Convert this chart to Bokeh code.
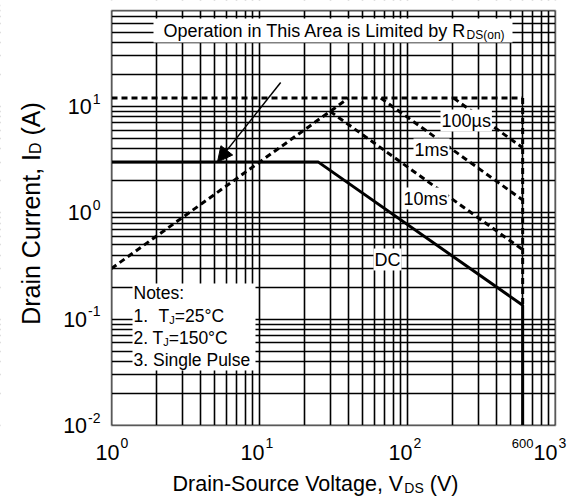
import math
from bokeh.plotting import figure
from bokeh.models import Label, BoxAnnotation, Arrow, NormalHead, FixedTicker, Grid
from bokeh.embed import file_html
from bokeh.resources import INLINE

# ---------------- data ----------------
rds_v = [1, 40]            # R_DS(on) limit line
rds_i = [0.3, 12]
ipk_v = [1, 600]           # pulsed current limit
ipk_i = [12, 12]
us100_v = [205, 600]       # 100 us
us100_i = [12, 4.1]
ms1_v = [66, 600]          # 1 ms
ms1_i = [12, 1.32]
ms10_v = [30, 600]         # 10 ms
ms10_i = [9.0, 0.45]
vmax_v = [600, 600]        # 600 V limit (pulsed part)
vmax_i = [12, 0.135]
dc_v = [1, 25, 600, 600]   # DC
dc_i = [3, 3, 0.135, 0.01]

arrow_from = (13.9, 16.8)
arrow_to = (5.2, 3.0)

x_lim = (1, 1000)
y_lim = (0.01, 80)
x_ticks = [1, 10, 100, 1000]
x_tick_exp = ["0", "1", "2", "3"]
y_ticks = [0.01, 0.1, 1, 10]
y_tick_exp = ["-2", "-1", "0", "1"]
x_minor = [m * 10 ** k for k in range(0, 3) for m in range(2, 10)]
y_minor = [m * 10.0 ** k for k in range(-2, 2) for m in range(2, 10)]

FONT = "Liberation Sans"

# ---------------- layout ----------------
CW, CH = 569, 500                  # canvas
PL, PR, PT, PB = 111, 555, 10, 425  # plot area in canvas pixels
xdec = (PR - PL) / (math.log10(x_lim[1]) - math.log10(x_lim[0]))
ydec = (PB - PT) / (math.log10(y_lim[1]) - math.log10(y_lim[0]))
x_range = (10 ** (math.log10(x_lim[0]) - PL / xdec), 10 ** (math.log10(x_lim[1]) + (CW - PR) / xdec))
y_range = (10 ** (math.log10(y_lim[0]) - (CH - PB) / ydec), 10 ** (math.log10(y_lim[1]) + PT / ydec))

AW = {' ': 278, '(': 333, ')': 333, ',': 278, '-': 333, '.': 278, ':': 278, '=': 584,
      '°': 400, 'µ': 577, 'A': 667, 'C': 722, 'D': 722, 'I': 278, 'J': 500, 'L': 556,
      'N': 722, 'O': 778, 'P': 667, 'R': 722, 'S': 667, 'T': 611, 'V': 667, 'a': 556,
      'b': 556, 'c': 500, 'd': 556, 'e': 556, 'g': 556, 'h': 556, 'i': 222, 'l': 222,
      'm': 833, 'n': 556, 'o': 556, 'p': 556, 'r': 333, 's': 500, 't': 278, 'u': 556,
      'y': 500}


def tw(s, size):
    return sum(AW.get(c, 556) for c in s) * size / 1000.0


def px2x(px):
    return 10 ** (math.log10(x_lim[0]) + (px - PL) / xdec)


def py2y(py):
    return 10 ** (math.log10(y_lim[0]) + (PB - py) / ydec)


p = figure(width=CW, height=CH, x_axis_type="log", y_axis_type="log",
           x_range=x_range, y_range=y_range,
           x_axis_location=None, y_axis_location=None,
           output_backend="svg", toolbar_location=None, min_border=0)
p.background_fill_color = "white"
p.border_fill_color = "white"
p.outline_line_color = None
for g in list(p.center):
    if isinstance(g, Grid):
        p.center.remove(g)

for dim, ticks, minors in ((0, x_ticks, x_minor), (1, y_ticks, y_minor)):
    p.add_layout(Grid(dimension=dim, ticker=FixedTicker(ticks=ticks, minor_ticks=minors),
                      grid_line_color="black", grid_line_width=1.6, grid_line_alpha=1,
                      minor_grid_line_color="black", minor_grid_line_width=1.6,
                      minor_grid_line_alpha=1))

DASH = "6 4"
for xs, ys in ((rds_v, rds_i), (ipk_v, ipk_i), (us100_v, us100_i), (ms1_v, ms1_i),
               (ms10_v, ms10_i), (vmax_v, vmax_i)):
    p.line(xs, ys, line_color="black", line_width=3, line_dash=DASH)
p.line(dc_v, dc_i, line_color="black", line_width=3)

p.add_layout(Arrow(end=NormalHead(size=15, fill_color="black", line_color="black", line_width=1),
                   x_start=arrow_from[0], y_start=arrow_from[1],
                   x_end=arrow_to[0], y_end=arrow_to[1],
                   line_color="black", line_width=1.5))

# white masks outside the plot area (explicit bounds beyond the canvas), plot outline
W = dict(fill_color="white", fill_alpha=1, line_color=None, line_alpha=0)
xa, xb = x_range[0] / 10, x_range[1] * 10
ya, yb_ = y_range[0] / 10, y_range[1] * 10
p.add_layout(BoxAnnotation(left=xa, right=x_lim[0], bottom=ya, top=yb_, **W))
p.add_layout(BoxAnnotation(left=x_lim[1], right=xb, bottom=ya, top=yb_, **W))
p.add_layout(BoxAnnotation(left=xa, right=xb, bottom=y_lim[1], top=yb_, **W))
p.add_layout(BoxAnnotation(left=xa, right=xb, bottom=ya, top=y_lim[0], **W))
p.add_layout(BoxAnnotation(left=x_lim[0], right=x_lim[1], bottom=y_lim[0], top=y_lim[1],
                           fill_alpha=0, line_color="black", line_width=2))

# white boxes inside the plot
p.add_layout(BoxAnnotation(left=px2x(153), right=px2x(512), top=py2y(18), bottom=py2y(42), **W))
p.add_layout(BoxAnnotation(left=px2x(132), right=px2x(255), top=py2y(283), bottom=py2y(370), **W))


def lab(text, px, py, size, align="left", angle=0.0, bg=None):
    kw = {}
    if bg:
        kw = dict(background_fill_color=bg, background_fill_alpha=1, padding=1)
    p.add_layout(Label(x=x_lim[0], y=y_lim[0], x_offset=px - PL, y_offset=PB - py, text=text,
                       text_font=FONT, text_font_size=f"{size}px", text_color="black",
                       text_align=align, text_baseline="middle", angle=angle, **kw))


# "Operation in This Area is Limited by R_DS(on)"
OP_F, OP_S = 18, 12
op_main = "Operation in This Area is Limited by R"
lab(op_main, 163, 30, OP_F)
lab("DS(on)", 163 + tw(op_main, OP_F), 34, OP_S)

# curve labels
CF = 18
lab("100µs", 440, 120, CF, bg="white")
lab("1ms", 413, 149, CF, bg="white")
lab("10ms", 402, 198, CF, bg="white")
lab("DC", 373, 259, CF, bg="white")

# notes
NF, NS = 17.5, 11
lab("Notes:", 133, 292, NF)
for y0, num, tx, rest in ((315, "1.", 158, "=25°C"), (337, "2.", 152, "=150°C")):
    lab(num, 133, y0, NF)
    lab("T", tx, y0, NF)
    lab("J", tx + tw("T", NF), y0 + 4, NS)
    lab(rest, tx + tw("T", NF) + tw("J", NS), y0, NF)
lab("3. Single Pulse", 133, 359, NF)

# tick labels
TF, TS = 21.5, 14
for t, e, dx in zip(x_ticks, x_tick_exp, (8, 5, 5, 2)):
    pxt = PL + xdec * (math.log10(t) - math.log10(x_lim[0]))
    lab("10", pxt + dx, 452, TF, align="right")
    lab(e, pxt + dx + 1, 442, TS)
lab("600", PL + xdec * math.log10(600), 443, 13, align="center")
for t, e in zip(y_ticks, y_tick_exp):
    pyt = PB - ydec * (math.log10(t) - math.log10(y_lim[0]))
    lab(e, 100, pyt - 8, TS, align="right")
    lab("10", 100 - tw(e, TS) - 1, pyt, TF, align="right")

# axis titles
AF, AS = 21.5, 14
xm, xs_, xe = "Drain-Source Voltage, V", "DS", "(V)"
wx = tw(xm, AF) + tw(xs_, AS) + tw(" " + xe, AF)
x0 = 315 - wx / 2
lab(xm, x0, 483, AF)
lab(xs_, x0 + tw(xm, AF), 487, AS)
lab(xe, x0 + tw(xm, AF) + tw(xs_, AS) + tw(" ", AF), 483, AF)

YF, YS = 25, 16
ym, ys_, ye = "Drain Current, I", "D", "(A)"
wy = tw(ym, YF) + tw(ys_, YS) + tw(" " + ye, YF)
yb = 213 + wy / 2
lab(ym, 30, yb, YF, angle=math.pi / 2)
lab(ys_, 35, yb - tw(ym, YF), YS, angle=math.pi / 2)
lab(ye, 30, yb - tw(ym, YF) - tw(ys_, YS) - tw(" ", YF), YF, angle=math.pi / 2)

open("out.html", "w").write(file_html(p, INLINE))
